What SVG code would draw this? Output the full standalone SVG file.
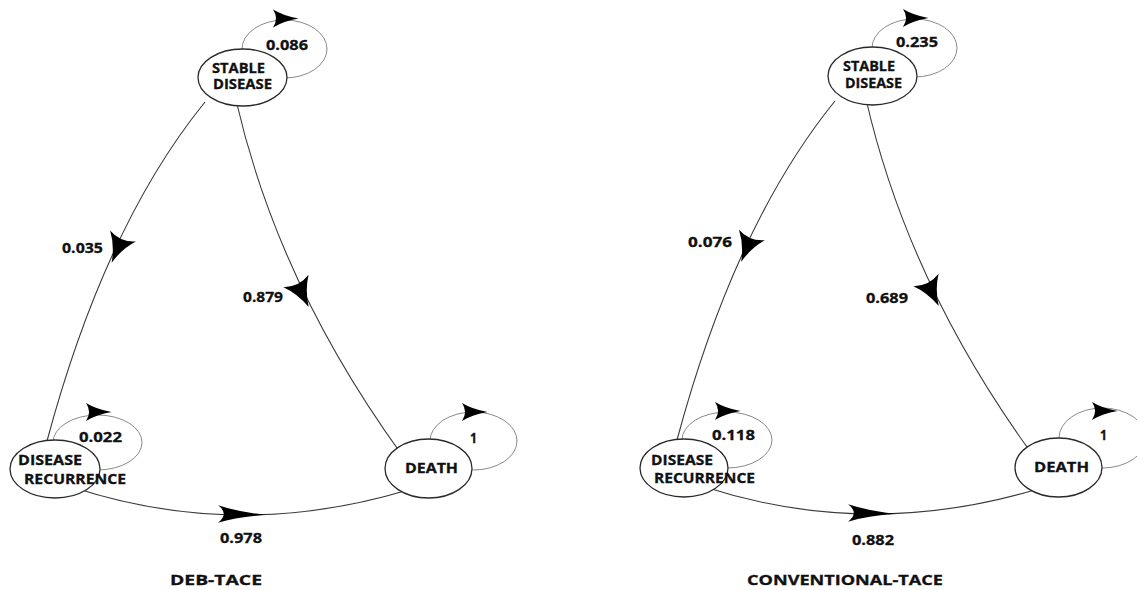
<svg xmlns="http://www.w3.org/2000/svg" xmlns:xlink="http://www.w3.org/1999/xlink" width="1137" height="590" viewBox="0 0 1137 590">
<style>
.edge{fill:none;stroke:#3a3a3a;stroke-width:1.1}
.loop{fill:none;stroke:#8a8a8a;stroke-width:1}
.node{fill:#fff;stroke:#2a2a2a;stroke-width:1.3}
.ah{fill:#000}
text{font-family:"Open Sans","Liberation Sans",sans-serif;font-weight:700;fill:#111;stroke:#111;stroke-width:0.3}
.lbl{font-size:14.5px}
.nt{font-size:13.5px}
.ttl{font-size:14.5px}
</style>
<defs>
<path id="ah" d="M0,-14 Q7,0 0,14 Q12,4 29,0 Q12,-4 0,-14 Z"/>
</defs>
<rect width="1137" height="590" fill="#fff"/>
<g id="connectors">
  <!-- DEB-TACE -->
  <path class="edge" d="M205,102 Q105,225 47,441"/>
  <path class="edge" d="M236,100 Q278,284 402,455"/>
  <path class="edge" d="M75,488 Q238.5,541 408,490"/>
  <ellipse class="loop" cx="284.5" cy="49" rx="42.5" ry="29"/>
  <ellipse class="loop" cx="97.5" cy="442.5" rx="44.5" ry="27.5"/>
  <ellipse class="loop" cx="473.5" cy="441" rx="43.5" ry="29"/>
  <use href="#ah" class="ah" transform="translate(123,236) rotate(113)"/>
  <use href="#ah" class="ah" transform="translate(296,281) rotate(64)"/>
  <use href="#ah" class="ah" transform="translate(218,514) rotate(1) scale(1.65,0.62)"/>
  <use href="#ah" class="ah" transform="translate(273,18.5) scale(0.88,0.64)"/>
  <use href="#ah" class="ah" transform="translate(86,412) scale(0.88,0.64)"/>
  <use href="#ah" class="ah" transform="translate(462,412) scale(0.88,0.64)"/>
  <text class="lbl" x="266" y="50" textLength="42" lengthAdjust="spacingAndGlyphs">0.086</text>
  <text class="lbl" x="79" y="442" textLength="43" lengthAdjust="spacingAndGlyphs">0.022</text>
  <text class="lbl" x="470" y="443" textLength="7" lengthAdjust="spacingAndGlyphs">1</text>
  <text class="lbl" x="62" y="253" textLength="41" lengthAdjust="spacingAndGlyphs">0.035</text>
  <text class="lbl" x="243" y="302" textLength="40" lengthAdjust="spacingAndGlyphs">0.879</text>
  <text class="lbl" x="220" y="543" textLength="42" lengthAdjust="spacingAndGlyphs">0.978</text>
  <!-- CONVENTIONAL-TACE -->
  <path class="edge" d="M835,101 Q735,224 677,440"/>
  <path class="edge" d="M866,99 Q908,283 1032,454"/>
  <path class="edge" d="M705,487 Q868,540 1038,489"/>
  <ellipse class="loop" cx="914.5" cy="48" rx="42.5" ry="29"/>
  <ellipse class="loop" cx="727" cy="440" rx="45" ry="28"/>
  <ellipse class="loop" cx="1102.5" cy="438" rx="43.5" ry="30"/>
  <use href="#ah" class="ah" transform="translate(752,235) rotate(112)"/>
  <use href="#ah" class="ah" transform="translate(926,280) rotate(64)"/>
  <use href="#ah" class="ah" transform="translate(848,513) rotate(1) scale(1.65,0.62)"/>
  <use href="#ah" class="ah" transform="translate(903,18) scale(0.88,0.64)"/>
  <use href="#ah" class="ah" transform="translate(715,411) scale(0.88,0.64)"/>
  <use href="#ah" class="ah" transform="translate(1092,411) scale(0.88,0.64)"/>
  <text class="lbl" x="896" y="47" textLength="42" lengthAdjust="spacingAndGlyphs">0.235</text>
  <text class="lbl" x="712" y="440" textLength="43" lengthAdjust="spacingAndGlyphs">0.118</text>
  <text class="lbl" x="1100" y="440" textLength="7" lengthAdjust="spacingAndGlyphs">1</text>
  <text class="lbl" x="688" y="247" textLength="44" lengthAdjust="spacingAndGlyphs">0.076</text>
  <text class="lbl" x="866" y="303" textLength="42" lengthAdjust="spacingAndGlyphs">0.689</text>
  <text class="lbl" x="852" y="545" textLength="42" lengthAdjust="spacingAndGlyphs">0.882</text>
</g>
<g id="deb-stable">
  <ellipse class="node" cx="242.5" cy="77.5" rx="44.5" ry="28.5"/>
  <text class="nt" x="212" y="73" textLength="53" lengthAdjust="spacingAndGlyphs">STABLE</text>
  <text class="nt" x="213" y="89" textLength="59" lengthAdjust="spacingAndGlyphs">DISEASE</text>
</g>
<g id="deb-recurrence">
  <ellipse class="node" cx="55" cy="469" rx="45" ry="29"/>
  <text class="nt" x="18" y="465" textLength="64" lengthAdjust="spacingAndGlyphs">DISEASE</text>
  <text class="nt" x="24" y="484" textLength="102" lengthAdjust="spacingAndGlyphs">RECURRENCE</text>
</g>
<g id="deb-death">
  <ellipse class="node" cx="428.5" cy="468.5" rx="43.5" ry="29.5"/>
  <text class="nt" x="405" y="473" textLength="53" lengthAdjust="spacingAndGlyphs">DEATH</text>
</g>
<g id="conv-stable">
  <ellipse class="node" cx="872.5" cy="76" rx="44.5" ry="29"/>
  <text class="nt" x="843" y="71" textLength="52" lengthAdjust="spacingAndGlyphs">STABLE</text>
  <text class="nt" x="845" y="88" textLength="57" lengthAdjust="spacingAndGlyphs">DISEASE</text>
</g>
<g id="conv-recurrence">
  <ellipse class="node" cx="684" cy="468" rx="44" ry="29"/>
  <text class="nt" x="651" y="465" textLength="62" lengthAdjust="spacingAndGlyphs">DISEASE</text>
  <text class="nt" x="654" y="483" textLength="101" lengthAdjust="spacingAndGlyphs">RECURRENCE</text>
</g>
<g id="conv-death">
  <ellipse class="node" cx="1058.5" cy="467.5" rx="43.5" ry="29.5"/>
  <text class="nt" x="1034" y="472" textLength="55" lengthAdjust="spacingAndGlyphs">DEATH</text>
</g>
<g id="titles">
  <text class="ttl" x="170" y="585" textLength="92" lengthAdjust="spacingAndGlyphs">DEB-TACE</text>
  <text class="ttl" x="747" y="585" textLength="196" lengthAdjust="spacingAndGlyphs">CONVENTIONAL-TACE</text>
</g>
</svg>
